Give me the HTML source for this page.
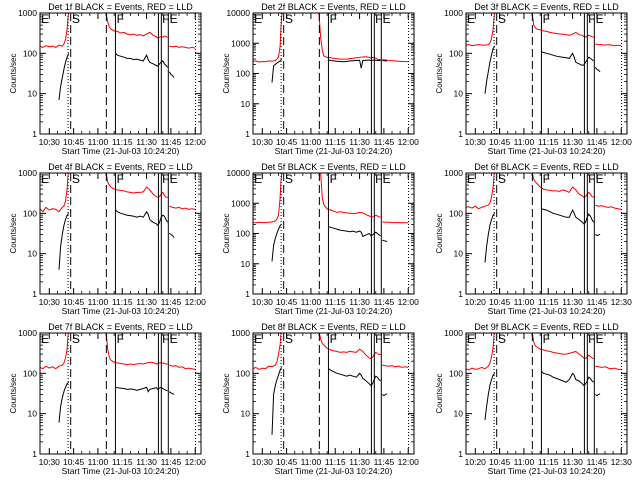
<!DOCTYPE html>
<html><head><meta charset="utf-8"><style>
html,body{margin:0;padding:0;background:#fff;}
svg{display:block;font-family:"Liberation Sans",sans-serif;}
</style></head><body>
<svg id="c" width="640" height="480" viewBox="0 0 640 480"></svg>
<script>
// Times in minutes after 10:00; values in counts/sec
const detNames = ["1f","2f","3f","4f","5f","6f","7f","8f","9f"];
const yDecades = [3,4,3,3,4,3,3,3,3];
const xTickLabels = [
 ["10:30","10:45","11:00","11:15","11:30","11:45","12:00"],
 ["10:30","10:45","11:00","11:15","11:30","11:45","12:00"],
 ["10:30","10:45","11:00","11:15","11:30","11:45","12:00"],
 ["10:30","10:45","11:00","11:15","11:30","11:45","12:00"],
 ["10:30","10:45","11:00","11:15","11:30","11:45","12:00"],
 ["10:20","10:45","11:00","11:15","11:30","11:45","12:30"],
 ["10:30","10:45","11:00","11:15","11:30","11:45","12:00"],
 ["10:30","10:45","11:00","11:15","11:30","11:45","12:00"],
 ["10:20","10:45","11:00","11:15","11:30","11:45","12:30"]];
const xTickTimes = [30,45,60,75,90,105,120];
const redPreT = [24.3,26,28,30,32,34,36,38,39,40,41,41.5,42,42.5];
const redPre = [
 [150,140,155,145,150,140,160,150,170,220,400,700,1100,1500],
 [250,260,240,250,245,260,255,270,300,350,800,3000,8000,12000],
 [160,165,155,160,165,160,160,165,180,230,400,700,1100,1500],
 [130,110,140,120,130,125,110,140,150,200,400,800,1100,1500],
 [230,225,235,230,230,235,240,260,300,400,1500,5000,9000,12000],
 [140,145,135,150,130,140,150,160,180,250,450,800,1100,1500],
 [140,130,150,135,145,130,150,160,180,240,400,800,1100,1500],
 [130,140,125,135,130,150,145,160,190,300,500,900,1100,1500],
 [130,120,135,125,130,140,130,150,180,250,450,800,1100,1500]];
const redPostT = [64,65,66,67,68,70,72,74,76,78,80,82,84,86,88,90,92,94,96,97,98,99,100,101,102,103];
const redPost = [
 [1500,1100,600,450,400,360,350,320,330,300,290,300,280,290,270,300,330,280,260,240,250,260,250,270,260,250],
 [12000,9000,1500,600,380,340,330,320,310,300,300,300,310,320,330,340,350,360,340,330,340,330,320,300,290,290],
 [1500,1100,500,430,400,380,360,350,330,320,310,300,300,290,280,300,330,290,280,260,250,270,280,270,260,250],
 [1500,1100,600,500,450,400,380,370,360,340,330,320,330,330,340,450,380,300,260,250,260,300,330,280,250,250],
 [12000,12000,9000,1500,900,650,600,550,500,520,500,480,470,460,470,500,480,420,380,360,350,360,400,380,350,350],
 [1500,1100,700,600,550,450,400,380,370,360,360,350,380,360,330,450,380,300,270,250,260,300,330,300,260,250],
 [1500,1100,400,250,210,190,180,175,170,165,170,165,170,175,170,180,190,185,170,175,180,185,180,175,170,170],
 [1500,1100,700,550,500,420,380,360,350,330,340,330,350,340,330,400,350,280,240,230,250,300,330,310,290,300],
 [1500,1100,600,480,450,400,380,360,350,330,320,310,300,300,310,330,350,300,260,240,230,260,280,260,240,230]];
const redAftT = [104,106,108,110,112,114,116,118,120];
const redAft = [
 [150,145,150,140,145,140,135,140,135],
 [290,280,270,265,260,255,250,250,245],
 [170,165,165,160,165,160,155,160,155],
 [150,140,135,140,130,135,125,130,125],
 [240,235,235,230,230,230,228,228,225],
 [160,150,155,145,140,145,135,130,125],
 [160,150,155,140,145,130,135,130,125],
 [160,155,150,155,145,150,140,145,140],
 [150,145,140,145,135,130,135,125,125]];
const blkPreT = [36,37,38,39,40,41,42];
const blkPre = [
 [7,15,25,40,60,80,100],
 [50,180,200,220,240,260,300],
 [10,20,35,60,90,130,150],
 [4,15,30,50,70,90,100],
 [12,40,70,100,140,180,200],
 [6,15,30,50,70,90,100],
 [6,15,25,35,45,55,60],
 [3,30,50,70,90,120,140],
 [7,15,30,50,70,90,100]];
const blkPostT = [71,72,74,76,78,80,82,84,86,88,90,91,92,94,96,97,98,99,100,101,102,103];
const blkPost = [
 [100,90,85,80,75,75,70,72,68,65,90,70,60,55,50,48,55,60,65,55,50,45],
 [280,270,260,255,250,245,250,260,265,270,275,150,270,275,280,270,275,280,275,270,270,270],
 [110,105,100,95,90,85,82,80,78,75,100,80,60,55,50,52,60,70,80,75,70,65],
 [120,110,100,95,90,88,85,80,85,80,110,95,70,60,55,50,60,80,90,85,70,60],
 [170,160,150,140,130,125,120,115,120,110,120,110,80,90,100,85,90,100,110,100,90,85],
 [130,125,120,110,100,95,90,85,80,80,120,100,80,70,60,55,60,80,95,85,70,60],
 [45,44,43,42,40,41,40,38,40,42,45,35,40,42,44,40,43,45,42,40,38,37],
 [130,120,110,100,95,90,85,90,85,80,100,90,75,65,55,50,55,70,85,80,70,65],
 [110,100,95,90,80,75,70,65,60,70,100,90,70,65,55,50,55,65,80,75,65,60]];
const blkAftT = [104,105,106,107];
const blkAft = [
 [35,30,28,25],
 [270,265,260,260],
 [45,40,38,35],
 [32,30,28,25],
 [60,58,56,55],
 [30,28,29,30],
 [35,33,31,30],
 [30,28,30,31],
 [30,28,30,31]];
const eventTimes = [41.6,43.2,65.2,70.8,97.3,99.1,103.4,120.2];
const eventStyles = ["dot","dash","dash","solid","solid","solid","solid","dot"];
const eventLetters = ["E","S","F","F","E"];
const eventLetterTimes = [25,44,71.5,99.6,104.2];

const NS="http://www.w3.org/2000/svg";
const svg=document.getElementById('c');
function mk(tag,attrs,parent){const e=document.createElementNS(NS,tag);for(const k in attrs)e.setAttribute(k,attrs[k]);(parent||svg).appendChild(e);return e;}

for(let p=0;p<9;p++){
  const col=p%3,row=Math.floor(p/3);
  const X0=40+col*213,X1=201+col*213,Y0=13+row*160,Y1=134+row*160;
  const dec=yDecades[p];
  const xs=t=>X0+(t-24.27)*(X1-X0)/99.3;
  const ys=v=>Y1-Math.log10(Math.max(v,0.5))/dec*(Y1-Y0);
  const g=mk('g',{});
  
  
  const cid='clip'+p;
  const cp=mk('clipPath',{id:cid},g);mk('rect',{x:X0,y:Y0,width:X1-X0,height:Y1-Y0},cp);
  const t=mk('text',{x:(X0+X1)/2,y:Y0-3,'text-anchor':'middle','font-size':9,fill:'#000'},g);
  t.textContent='Det '+detNames[p]+' BLACK = Events, RED = LLD';
  
  
  for(let d=0;d<=dec;d++){
    const y=ys(Math.pow(10,d));
    mk('line',{x1:X0,x2:X0+6,y1:y,y2:y,stroke:'#000','stroke-width':1},g);
    mk('line',{x1:X1,x2:X1-6,y1:y,y2:y,stroke:'#000','stroke-width':1},g);
    const l=mk('text',{x:X0-3,y:y+3,'text-anchor':'end','font-size':8.5,fill:'#000'},g);
    l.textContent=String(Math.pow(10,d));
    
    
    if(d<dec)for(let m=2;m<10;m++){const ym=ys(m*Math.pow(10,d));
      mk('line',{x1:X0,x2:X0+3,y1:ym,y2:ym,stroke:'#000','stroke-width':0.8},g);
      mk('line',{x1:X1,x2:X1-3,y1:ym,y2:ym,stroke:'#000','stroke-width':0.8},g);}
  }
  xTickTimes.forEach((tt,i)=>{const x=xs(tt);
    mk('line',{x1:x,x2:x,y1:Y1,y2:Y1-6,stroke:'#000'},g);
    mk('line',{x1:x,x2:x,y1:Y0,y2:Y0+6,stroke:'#000'},g);
    for(let m=5;m<15;m+=5){const xm=xs(tt+m);if(xm<X1){mk('line',{x1:xm,x2:xm,y1:Y1,y2:Y1-3,stroke:'#000','stroke-width':0.8},g);mk('line',{x1:xm,x2:xm,y1:Y0,y2:Y0+3,stroke:'#000','stroke-width':0.8},g);}}
    const l=mk('text',{x:x,y:Y1+11,'text-anchor':'middle','font-size':8.5,fill:'#000'},g);
    l.textContent=xTickLabels[p][i];
    
    
  });
  const xt=mk('text',{x:(X0+X1)/2,y:Y1+20,'text-anchor':'middle','font-size':8.5,fill:'#000'},g);
  xt.textContent='Start Time (21-Jul-03 10:24:20)';
  
  
  const yt=mk('text',{x:0,y:0,'text-anchor':'middle','font-size':8,fill:'#000',transform:`translate(${X0-24},${(Y0+Y1)/2}) rotate(-90)`},g);
  yt.textContent='Counts/sec';
  
  
  const series=[[redPreT,redPre[p],'#f00'],[redPostT,redPost[p],'#f00'],[redAftT,redAft[p],'#f00'],
                [blkPreT,blkPre[p],'#000'],[blkPostT,blkPost[p],'#000'],[blkAftT,blkAft[p],'#000']];
  series.forEach((s,i)=>{
    const pts=s[0].map((tt,k)=>xs(tt).toFixed(1)+','+ys(s[1][k]).toFixed(1)).join(' ');
    const pl=mk('polyline',{points:pts,fill:'none',stroke:s[2],'stroke-width':1,'clip-path':`url(#${cid})`},g);
    
    
  });
  eventTimes.forEach((et,i)=>{const x=xs(et);
    const a={x1:x,x2:x,y1:Y0,y2:Y1,stroke:'#000','stroke-width':1};
    if(eventStyles[i]==='dot')a['stroke-dasharray']='1,2';
    if(eventStyles[i]==='dash')a['stroke-dasharray']='8,4';
    const ln=mk('line',a,g);
    
    
  });
  eventLetters.forEach((L,i)=>{
    const e=mk('text',{x:xs(eventLetterTimes[i]),y:Y0+10,'font-size':12,fill:'#000'},g);
    e.textContent=L;
    
    
  });
  mk('rect',{x:X0,y:Y0,width:X1-X0,height:Y1-Y0,fill:'none',stroke:'#000','stroke-width':1},g);
}
</script>
</body></html>
